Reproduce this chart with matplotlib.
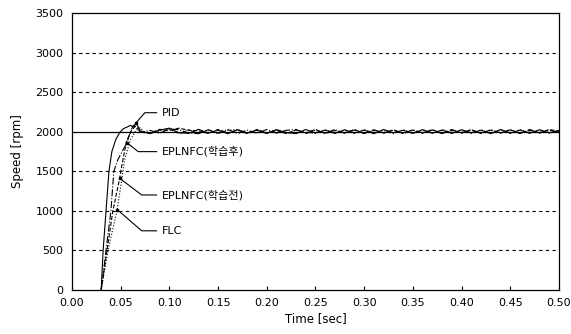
import matplotlib
matplotlib.use("Agg")
import matplotlib.pyplot as plt

plt.rcParams['font.family'] = ['DejaVu Sans', 'Noto Sans CJK KR']

# rise portion of each speed response (time [s], speed [rpm])
pid_t = [0.030, 0.032, 0.035, 0.038, 0.041, 0.045, 0.049, 0.053, 0.057, 0.060, 0.063, 0.066, 0.070]
pid_v = [0, 500, 1000, 1500, 1750, 1900, 1990, 2040, 2060, 2080, 2060, 2115, 2010]
after_t = [0.030, 0.035, 0.040, 0.043, 0.047, 0.052, 0.0565, 0.060, 0.063, 0.067, 0.071]
after_v = [0, 500, 1000, 1500, 1643, 1760, 1860, 2000, 2080, 2030, 1990]
before_t = [0.030, 0.036, 0.042, 0.049, 0.051, 0.056, 0.061, 0.065, 0.069, 0.073]
before_v = [0, 500, 1000, 1411, 1560, 1880, 2010, 2070, 2030, 1990]
flc_t = [0.030, 0.037, 0.0465, 0.0524, 0.054, 0.060, 0.065, 0.070, 0.074]
flc_v = [0, 500, 1015, 1500, 1643, 1900, 2000, 2050, 2000]

# steady-state ripple around the 2000 rpm reference
tail_t = [0.08, 0.09, 0.10, 0.11, 0.12, 0.13, 0.14, 0.15, 0.16, 0.17, 0.18, 0.19,
          0.20, 0.21, 0.22, 0.23, 0.24, 0.25, 0.26, 0.27, 0.28, 0.29, 0.30, 0.31,
          0.32, 0.33, 0.34, 0.35, 0.36, 0.37, 0.38, 0.39, 0.40, 0.41, 0.42, 0.43,
          0.44, 0.45, 0.46, 0.47, 0.48, 0.49, 0.50]
pid_tail = [1975, 2020, 2045, 1985, 1980, 2030, 1982, 2020, 1975, 2025, 1985, 2018,
            1978, 2025, 1990, 1975, 2028, 1985, 2020, 1978, 2025, 1982, 2020, 1975,
            2028, 1986, 2018, 1978, 2026, 1982, 2020, 1978, 2025, 1986, 2018, 1975,
            2028, 1982, 2020, 1980, 2025, 1986, 2015]
after_tail = [2018, 1978, 2035, 2025, 1982, 1975, 2025, 1982, 2028, 1978, 2020, 1980,
              2028, 1982, 2018, 2028, 1976, 2022, 1982, 2028, 1980, 2020, 1976, 2025,
              1984, 2020, 1980, 2025, 1982, 2022, 1976, 2028, 1982, 2020, 1978, 2025,
              1985, 2022, 1976, 2028, 1982, 2020, 1990]
before_tail = [1982, 2030, 2015, 2045, 2018, 2012, 1978, 2028, 1984, 2020, 1976, 2028,
               1985, 2016, 1976, 2022, 1985, 2028, 1976, 2016, 1985, 2028, 1980, 2016,
               1982, 2025, 1976, 2020, 1985, 2025, 1980, 2016, 1985, 2028, 1976, 2020,
               1982, 2025, 1980, 2016, 1985, 2028, 2005]
flc_tail = [1980, 2010, 2030, 1978, 2025, 1982, 2020, 1976, 2016, 2028, 1980, 2022,
            1982, 2028, 1976, 2020, 1990, 1976, 2025, 1985, 2016, 1976, 2028, 1985,
            2016, 1976, 2025, 1985, 2020, 1976, 2028, 1985, 2016, 1976, 2025, 1982,
            2020, 1976, 2028, 1985, 2016, 1980, 2010]

ref_speed = 2000
x_ticks = [0.00, 0.05, 0.10, 0.15, 0.20, 0.25, 0.30, 0.35, 0.40, 0.45, 0.50]
y_ticks = [0, 500, 1000, 1500, 2000, 2500, 3000, 3500]

# label text, arrow tip (on its curve), elbow point
labels = [
    ('PID', (pid_t[11], pid_v[11]), (0.0749, 2240)),
    ('EPLNFC(학습후)', (after_t[6], after_v[6]), (0.0680, 1748)),
    ('EPLNFC(학습전)', (before_t[3], before_v[3]), (0.0716, 1200)),
    ('FLC', (flc_t[2], flc_v[2]), (0.0716, 747)),
]

fig = plt.figure(figsize=(5.71, 3.34), dpi=100)
ax = fig.add_axes([0.126, 0.132, 0.853, 0.829])

for y in [500, 1000, 1500, 2500, 3000]:
    ax.axhline(y, color='black', lw=0.8, ls=(0, (3, 3)), zorder=1)
ax.axhline(ref_speed, color='black', lw=0.9, zorder=2)

ax.plot(pid_t + tail_t, pid_v + pid_tail, color='black', lw=0.8, ls='-', zorder=3)
ax.plot(after_t + tail_t, after_v + after_tail, color='black', lw=0.8, ls='-.', zorder=3)
ax.plot(before_t + tail_t, before_v + before_tail, color='black', lw=0.8, ls='--', zorder=3)
ax.plot(flc_t + tail_t, flc_v + flc_tail, color='black', lw=0.8, ls=':', zorder=3)

for text, tip, elbow in labels:
    ax.plot([tip[0], elbow[0], 0.0869], [tip[1], elbow[1], elbow[1]],
            color='black', lw=0.8, zorder=4)
    ax.plot(tip[0], tip[1], 's', color='black', ms=1.6, zorder=4)
    ax.text(0.0921, elbow[1], text, fontsize=8, va='center', ha='left',
            family=['DejaVu Sans', 'Noto Sans CJK KR'])

ax.set_xlim(0, 0.5)
ax.set_ylim(0, 3500)
ax.set_xticks(x_ticks)
ax.set_xticklabels(['%.2f' % v for v in x_ticks])
ax.set_yticks(y_ticks)
ax.tick_params(axis='x', direction='in', length=3, labelsize=8, pad=6)
ax.tick_params(axis='y', length=0, labelsize=8, pad=6)
for s in ax.spines.values():
    s.set_linewidth(0.9)

ax.set_xlabel('Time [sec]', fontsize=8.5, labelpad=3)
ax.set_ylabel('Speed [rpm]', fontsize=8.5, labelpad=8)

fig.savefig('out.png', dpi=100)
